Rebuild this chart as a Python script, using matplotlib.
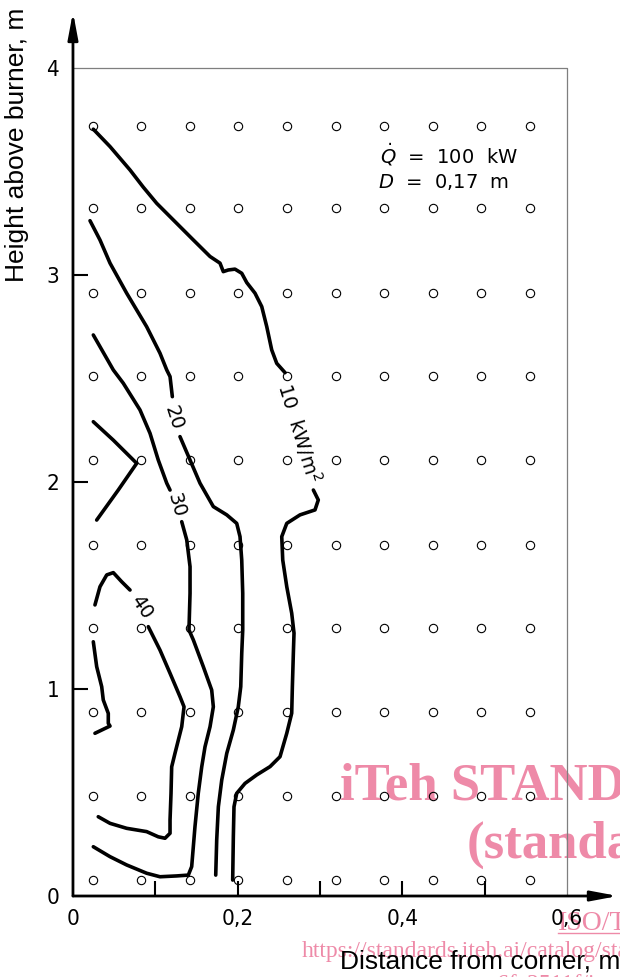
import numpy as np
import matplotlib
matplotlib.use("Agg")
import matplotlib.pyplot as plt

# measurement grid (thermocouple positions)
grid_x = [0.024, 0.083, 0.142, 0.201, 0.260, 0.319, 0.378, 0.437, 0.496, 0.555]
grid_y = [0.077, 0.483, 0.890, 1.295, 1.696, 2.106, 2.512, 2.912, 3.322, 3.720]

# 10 kW/m2 isoline (split by its label)
c10a_x = [0.0247, 0.045, 0.0693, 0.0854, 0.1017, 0.1218, 0.1462, 0.1665, 0.1786, 0.1826,
          0.1887, 0.1968, 0.205, 0.2111, 0.2211, 0.2293, 0.2354, 0.2414, 0.2475, 0.2576]
c10a_y = [3.704, 3.620, 3.507, 3.424, 3.346, 3.266, 3.169, 3.089, 3.057, 3.016,
          3.024, 3.028, 3.008, 2.963, 2.912, 2.847, 2.750, 2.638, 2.573, 2.528]
c10b_x = [0.292, 0.298, 0.294, 0.2758, 0.2597, 0.2536, 0.2548, 0.2597, 0.2657, 0.2685,
          0.2677, 0.2665, 0.2657, 0.2597, 0.2515, 0.2394, 0.2232, 0.209, 0.1989, 0.1956,
          0.1948, 0.194]
c10b_y = [1.961, 1.913, 1.865, 1.841, 1.800, 1.736, 1.623, 1.494, 1.366, 1.270,
          1.172, 1.011, 0.883, 0.786, 0.673, 0.625, 0.585, 0.544, 0.496, 0.431,
          0.286, 0.077]

# 20 kW/m2
c20a_x = [0.0207, 0.0328, 0.045, 0.0652, 0.0895, 0.1057, 0.1139, 0.1179, 0.1207]
c20a_y = [3.262, 3.169, 3.057, 2.912, 2.750, 2.622, 2.541, 2.509, 2.412]
c20b_x = [0.130, 0.1422, 0.1543, 0.1705, 0.1868, 0.1989, 0.2029, 0.205, 0.2062, 0.2062,
          0.205, 0.2038, 0.2008, 0.1948, 0.1868, 0.1807, 0.1766, 0.1746, 0.1734]
c20b_y = [2.219, 2.106, 1.994, 1.881, 1.841, 1.800, 1.736, 1.623, 1.462, 1.285,
          1.172, 1.011, 0.914, 0.802, 0.689, 0.560, 0.431, 0.271, 0.101]

# 30 kW/m2
c30a_x = [0.0247, 0.049, 0.0611, 0.0814, 0.0936, 0.1036, 0.1139, 0.1179]
c30a_y = [2.710, 2.541, 2.477, 2.348, 2.235, 2.106, 1.994, 1.961]
c30b_x = [0.1321, 0.1382, 0.1422, 0.1422, 0.1409, 0.1462, 0.1583, 0.1685, 0.1705, 0.1665,
          0.1604, 0.1564, 0.1522, 0.1482, 0.1442, 0.1401, 0.126, 0.1057, 0.0895, 0.0652,
          0.045, 0.0247]
c30b_y = [1.808, 1.720, 1.591, 1.462, 1.285, 1.237, 1.108, 0.995, 0.914, 0.818,
          0.721, 0.624, 0.496, 0.335, 0.142, 0.101, 0.097, 0.093, 0.110, 0.150,
          0.190, 0.238]

# 40 kW/m2
c40a_x = [0.0267, 0.0328, 0.041, 0.049, 0.0592, 0.0693]
c40a_y = [1.406, 1.494, 1.551, 1.562, 1.518, 1.478]
c40b_x = [0.0915, 0.1057, 0.1179, 0.130, 0.1349, 0.1321, 0.1239, 0.1199, 0.1191, 0.1179,
          0.1179, 0.1118, 0.1036, 0.0895, 0.0652, 0.045, 0.0307]
c40b_y = [1.301, 1.188, 1.076, 0.963, 0.914, 0.818, 0.689, 0.624, 0.496, 0.367,
          0.303, 0.279, 0.286, 0.311, 0.327, 0.351, 0.383]

# small unlabelled pieces near the corner
vee_x = [0.0247, 0.049, 0.0774, 0.055, 0.0288]
vee_y = [2.291, 2.202, 2.090, 1.961, 1.816]
hook_x = [0.0247, 0.0288, 0.0349, 0.0368, 0.0429, 0.0429, 0.045, 0.0267]
hook_y = [1.228, 1.108, 1.011, 0.947, 0.882, 0.834, 0.821, 0.786]

# isoline labels: text, x, y, angle
iso_labels = [("10  kW/m$^2$", 0.2746, 2.237, -73),
              ("20", 0.1227, 2.309, -72),
              ("30", 0.1250, 1.889, -74),
              ("40", 0.0835, 1.394, -56)]

x_ticks = [0, 0.1, 0.2, 0.3, 0.4, 0.5, 0.6]
x_ticklabels = ["0", "", "0,2", "", "0,4", "", "0,6"]
y_ticks = [0, 1, 2, 3, 4]
y_ticklabels = ["0", "1", "2", "3", "4"]

PINK = "#ee8aa8"

fig = plt.figure(figsize=(6.2, 9.77), dpi=100)
ax = fig.add_axes([0.1177, 0.0829, 0.8790, 0.9048])
ax.set_xlim(0, 0.662)
ax.set_ylim(0, 4.27)
ax.set_facecolor("none")
for s in ax.spines.values():
    s.set_visible(False)

# watermark behind everything
fig.text(340 / 620, 1 - 800 / 977, "iTeh STANDARD PREVIEW", family="Liberation Serif",
         weight="bold", fontsize=38, color=PINK, va="baseline", zorder=-5)
fig.text(467 / 620, 1 - 858 / 977, "(standards.iteh.ai)", family="Liberation Serif",
         weight="bold", fontsize=38, color=PINK, va="baseline", zorder=-5)
fig.text(558 / 620, 1 - 930 / 977, "ISO/TR", family="Liberation Serif",
         fontsize=20, color=PINK, va="baseline", zorder=-5)
fig.add_artist(plt.Line2D([558 / 620, 1], [1 - 933 / 977] * 2, color=PINK, lw=1, zorder=-5))
fig.text(302 / 620, 1 - 957 / 977, "https://standards.iteh.ai/catalog/standards/sist/",
         family="Liberation Serif", fontsize=17, color=PINK, va="baseline", zorder=-5)
fig.text(497 / 620, 1 - 990 / 977, "6fc2511f/iso-tr", family="Liberation Serif",
         fontsize=17, color=PINK, va="baseline", zorder=-5)

# axes with arrows
arrow = dict(arrowstyle="-|>,head_length=1.6,head_width=0.3", mutation_scale=10,
             lw=2, color="black", shrinkA=0, shrinkB=0)
ax.annotate("", xy=(0.662, 0), xytext=(0, 0), arrowprops=arrow, annotation_clip=False)
ax.annotate("", xy=(0, 4.27), xytext=(0, 0), arrowprops=arrow, annotation_clip=False)

# room outline
ax.plot([0, 0.6, 0.6], [4, 4, 0], color="#7f7f7f", lw=0.9)

ax.set_xticks(x_ticks)
ax.set_xticklabels(x_ticklabels, family="DejaVu Sans", stretch="condensed", fontsize=16)
ax.set_yticks(y_ticks)
ax.set_yticklabels(y_ticklabels, family="DejaVu Sans", stretch="condensed", fontsize=16)
ax.tick_params(axis="x", direction="in", length=11, width=1.5, pad=9)
ax.tick_params(axis="y", direction="in", length=11, width=1.5, pad=10)
for t in (ax.xaxis.get_major_ticks()[0], ax.xaxis.get_major_ticks()[-1],
          ax.yaxis.get_major_ticks()[0], ax.yaxis.get_major_ticks()[-1]):
    t.tick1line.set_visible(False)

# isolines
segments = [(c10a_x, c10a_y), (c10b_x, c10b_y), (c20a_x, c20a_y), (c20b_x, c20b_y),
            (c30a_x, c30a_y), (c30b_x, c30b_y), (c40a_x, c40a_y), (c40b_x, c40b_y),
            (vee_x, vee_y), (hook_x, hook_y)]
for sx, sy in segments:
    ax.plot(sx, sy, color="black", lw=2.6, solid_capstyle="round", solid_joinstyle="round")

for txt, lx, ly, ang in iso_labels:
    ax.text(lx, ly, txt, rotation=ang, fontsize=14, ha="center", va="center",
            rotation_mode="anchor")

# grid points
gx, gy = np.meshgrid(grid_x, grid_y)
ax.plot(gx.ravel(), gy.ravel(), "o", ms=6, mfc="none", mec="black", mew=0.8, zorder=3)

ax.text(0.373, 3.540, r"$\dot{Q}$  =  100  kW", fontsize=14, va="baseline")
ax.text(0.371, 3.420, r"$D$  =  0,17  m", fontsize=14, va="baseline")

fig.text(5 / 620, 1 - 8 / 977, "Height above burner, m", family="Liberation Sans",
         fontsize=19, rotation=90, ha="left", va="top")
fig.text(340 / 620, 1 - 968 / 977, "Distance from corner, m", family="Liberation Sans",
         fontsize=19, ha="left", va="baseline")

fig.savefig("out.png", dpi=100)
